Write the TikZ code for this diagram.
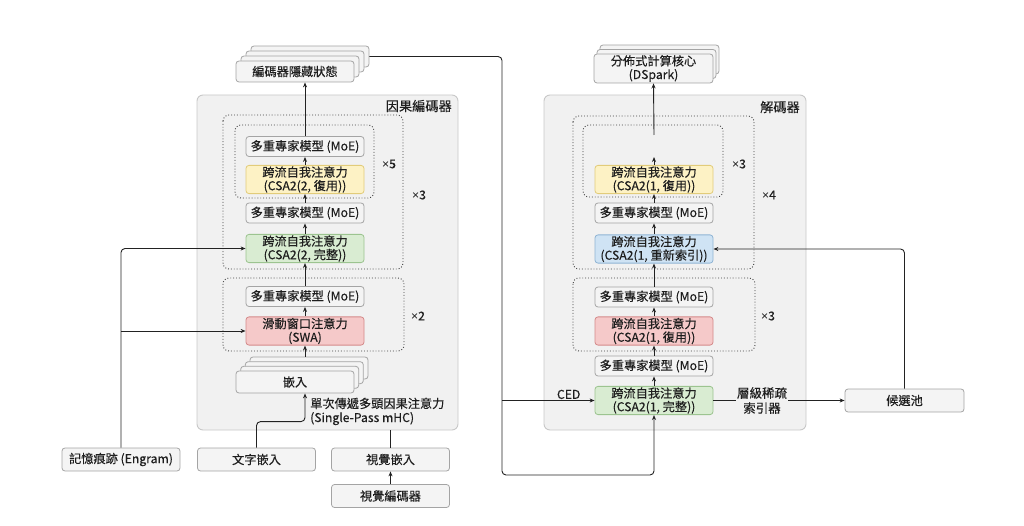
\documentclass[tikz,border=0pt]{standalone}
\usepackage{fontspec}
\setmainfont{Noto Sans CJK TC}[FakeBold=0.3]
\newfontfamily\timesfont{Liberation Sans}
\usetikzlibrary{arrows.meta,calc}
\definecolor{txtc}{HTML}{1E1E1E}
\definecolor{linec}{HTML}{222222}
\definecolor{boxfill}{HTML}{F4F4F4}
\definecolor{boxbord}{HTML}{A4A4A4}
\definecolor{outfill}{HTML}{F1F1F1}
\definecolor{outbord}{HTML}{C8C8C8}
\definecolor{grnfill}{HTML}{D9ECD2}
\definecolor{grnbord}{HTML}{9CC490}
\definecolor{yelfill}{HTML}{FDF2C5}
\definecolor{yelbord}{HTML}{E2CC7A}
\definecolor{redfill}{HTML}{F5C9C9}
\definecolor{redbord}{HTML}{D48A8A}
\definecolor{blufill}{HTML}{CFE3F4}
\definecolor{blubord}{HTML}{8FB4D4}
\newcommand{\boxfont}{\fontsize{12.2bp}{13.5bp}\selectfont}
\newcommand{\ttlfont}{\fontsize{13.2bp}{15bp}\selectfont}
\newcommand{\tms}{{\timesfont ×}}
\begin{document}
\begin{tikzpicture}[x=1bp,y=-1bp,
  box/.style={draw=boxbord, fill=boxfill, rounded corners=3bp, minimum width=118bp,
    inner sep=1bp, align=center, font=\boxfont, text=txtc, line width=0.8bp},
  mh/.style={minimum height=20bp},
  ch/.style={minimum height=27bp},
  bh/.style={minimum height=23bp},
  grn/.style={fill=grnfill, draw=grnbord},
  yel/.style={fill=yelfill, draw=yelbord},
  redb/.style={fill=redfill, draw=redbord},
  blu/.style={fill=blufill, draw=blubord},
  outer/.style={draw=outbord, fill=outfill, rounded corners=6bp, line width=0.9bp, inner sep=0pt},
  dotbox/.style={draw=black!75, dotted, line width=0.9bp, rounded corners=6bp},
  lbl/.style={font=\boxfont, text=txtc, inner sep=1bp, align=center},
  arr/.style={-{Stealth[length=5bp,width=4bp]}, line width=0.9bp, draw=linec},
  ln/.style={line width=0.9bp, draw=linec}
]
\useasboundingbox (0,0) rectangle (1024,526);

% outer boxes
\node[outer, minimum width=261bp, minimum height=335bp] (enc) at (327.5,262.5) {};
\node[outer, minimum width=262bp, minimum height=335bp] (dec) at (675,262.5) {};
\node[lbl, font=\ttlfont, anchor=east] (enctitle) at (453,106) {因果編碼器};
\node[lbl, font=\ttlfont, anchor=east] (dectitle) at (801,107) {解碼器};

% dotted groups
\draw[dotbox] (223,115) rectangle (403,269);
\draw[dotbox] (235,125) rectangle (374,198);
\draw[dotbox] (223,278) rectangle (404,351);
\draw[dotbox] (573,116) rectangle (754,269);
\draw[dotbox] (583,125) rectangle (723,197);
\draw[dotbox] (573,278) rectangle (755,351);

\node[lbl] (x5) at (389,164) {\tms5};
\node[lbl] (x3a) at (419,195) {\tms3};
\node[lbl] (x2) at (418,316) {\tms2};
\node[lbl] (x3b) at (739,164) {\tms3};
\node[lbl] (x4) at (769,195) {\tms4};
\node[lbl] (x3c) at (768,316) {\tms3};

% encoder nodes
\node[box,mh] (emoe1) at (305,146.5) {多重專家模型 (MoE)};
\node[box,ch,yel] (eyel) at (305,179.5) {跨流自我注意力\\(CSA2(2, 復用))};
\node[box,mh] (emoe2) at (305,213) {多重專家模型 (MoE)};
\node[box,ch,grn] (egrn) at (305,248.5) {跨流自我注意力\\(CSA2(2, 完整))};
\node[box,mh] (emoe3) at (305,296.5) {多重專家模型 (MoE)};
\node[box,ch,redb] (eswa) at (305,331) {滑動窗口注意力\\(SWA)};

% embedding stack
\node[box, minimum height=22bp] (emb3) at (309,368) {};
\node[box, minimum height=22bp] (emb2) at (304.3,372.7) {};
\node[box, minimum height=22bp] (emb1) at (299.7,377.3) {};
\node[box, minimum height=22bp] (emb) at (295,382) {嵌入};
\node[lbl, anchor=north west, align=left, font=\fontsize{12.2bp}{14bp}\selectfont] (mhc) at (309,396.5) {單次傳遞多頭因果注意力\\(Single-Pass mHC)};

% hidden state stack
\node[box, minimum height=21bp] (hs3) at (310,56.5) {};
\node[box, minimum height=21bp] (hs2) at (305,61.5) {};
\node[box, minimum height=21bp] (hs1) at (300,66.5) {};
\node[box, minimum height=21bp] (hs) at (295,71.5) {編碼器隱藏狀態};

% bottom inputs
\node[box,bh] (eng) at (121,459.5) {記憶痕跡 (Engram)};
\node[box,bh] (txtemb) at (256.5,459.5) {文字嵌入};
\node[box,bh] (visemb) at (390.5,459.5) {視覺嵌入};
\node[box,bh] (visenc) at (390.5,496) {視覺編碼器};

% decoder nodes
\node[box,ch,yel] (dyel) at (654,179.5) {跨流自我注意力\\(CSA2(1, 復用))};
\node[box,mh] (dmoe1) at (654,213) {多重專家模型 (MoE)};
\node[box,ch,blu] (dblue) at (654,249) {跨流自我注意力\\(CSA2(1, 重新索引))};
\node[box,mh] (dmoe2) at (654,297) {多重專家模型 (MoE)};
\node[box,ch,redb] (dred) at (654,331) {跨流自我注意力\\(CSA2(1, 復用))};
\node[box,mh] (dmoe3) at (654,366) {多重專家模型 (MoE)};
\node[box,ch,grn] (dgrn) at (654,400.5) {跨流自我注意力\\(CSA2(1, 完整))};
\node[lbl, font=\fontsize{12.5bp}{15bp}\selectfont] (idx) at (762,400.5) {層級稀疏\\索引器};
\node[box,bh, minimum width=119bp] (pool) at (904.5,400.5) {候選池};

% DSpark stack
\node[box, minimum width=119bp, minimum height=29bp] (ds2) at (659.5,59.5) {};
\node[box, minimum width=119bp, minimum height=29bp] (ds1) at (656.5,64) {};
\node[box, minimum width=119bp, minimum height=29bp] (ds) at (653.5,68.5) {分佈式計算核心\\(DSpark)};

\coordinate (dmid) at (654,157);
\coordinate (dtop) at (654,135);
\coordinate (bus) at (502,475);

% encoder flow
\draw[arr] (eswa.south |- emb3.north) -- (eswa.south);
\draw[arr] (eswa.north) -- (emoe3.south);
\draw[arr] (emoe3.north) -- (egrn.south);
\draw[arr] (egrn.north) -- (emoe2.south);
\draw[arr] (emoe2.north) -- (eyel.south);
\draw[arr] (eyel.north) -- (emoe1.south);
\draw[arr] (emoe1.north) -- (emoe1.north |- hs.south);

% inputs
\draw[arr, rounded corners=4bp] (txtemb.north) -- ++(0,-26) -| (eswa.south |- emb.south);
\draw[ln] (visemb.north) -- (visemb.north |- enc.south);
\draw[arr] (visenc.north) -- (visemb.south);
\draw[arr, rounded corners=4bp] (eng.north) |- (egrn.west);
\draw[arr] (eng.north |- eswa.west) -- (eswa.west);

% decoder flow
\draw[arr] (dgrn.north) -- (dmoe3.south);
\draw[arr] (dmoe3.north) -- (dred.south);
\draw[arr] (dred.north) -- (dmoe2.south);
\draw[arr] (dmoe2.north) -- (dblue.south);
\draw[arr] (dblue.north) -- (dmoe1.south);
\draw[arr] (dmoe1.north) -- (dyel.south);
\draw[arr] (dyel.north) -- (dmid);
\draw[arr] (dtop) -- (ds.south);

% cross connections
\draw[arr, rounded corners=4bp] (hs3.east) -| (bus) -| (dgrn.south);
\draw[arr] (bus |- dgrn.west) -- node[lbl, above, pos=0.72] (ced) {CED} (dgrn.west);
\draw[ln] (dgrn.east) -- (idx.west);
\draw[arr] (idx.east) -- (pool.west);
\draw[arr, rounded corners=4bp] (pool.north) |- (dblue.east);
\end{tikzpicture}
\end{document}
